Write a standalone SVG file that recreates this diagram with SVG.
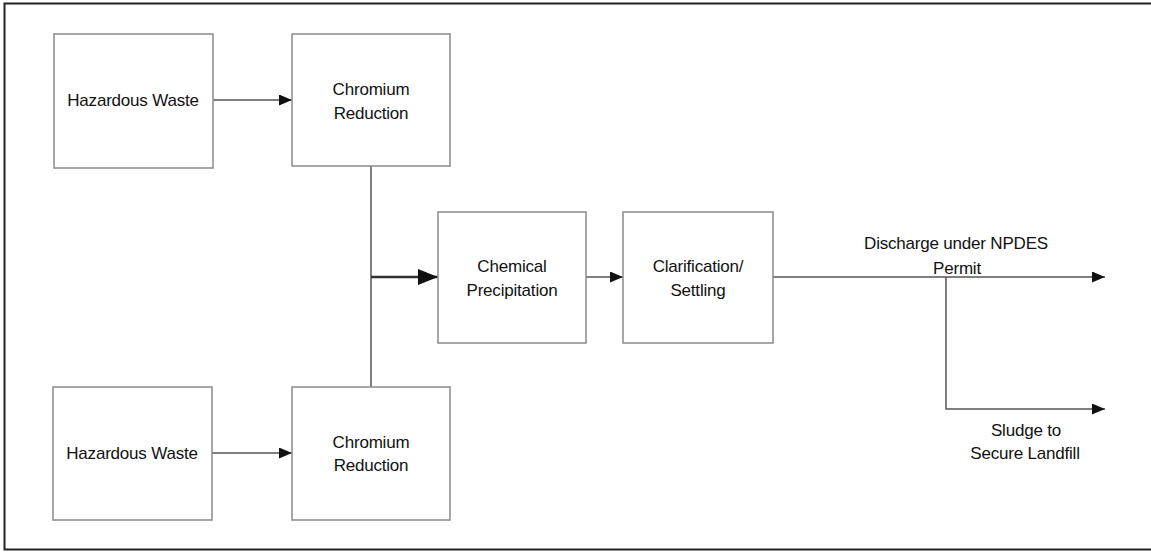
<svg xmlns="http://www.w3.org/2000/svg" width="1151" height="552" viewBox="0 0 1151 552">
<style>
.box{fill:#fff;stroke:#8a8a8a;stroke-width:1.5}
.t{font-family:"Liberation Sans",Arial,sans-serif;font-size:17px;fill:#111;text-anchor:middle;letter-spacing:-0.2px}
.c{fill:none;stroke:#555;stroke-width:1.5}
.ct{fill:none;stroke:#333;stroke-width:2.5}
</style>
<defs>
<marker id="a" viewBox="0 0 10 10" refX="10" refY="5" markerWidth="13" markerHeight="11" markerUnits="userSpaceOnUse" orient="auto" preserveAspectRatio="none"><path d="M0,0 L10,5 L0,10 Z" fill="#111"/></marker>
<marker id="b" viewBox="0 0 10 10" refX="10" refY="5" markerWidth="20" markerHeight="16" markerUnits="userSpaceOnUse" orient="auto" preserveAspectRatio="none"><path d="M0,0 L10,5 L0,10 Z" fill="#111"/></marker>
</defs>
<rect width="1151" height="552" fill="#fff"/>
<path d="M1151,3.5 H4.5 V549.5 H1151" fill="none" stroke="#222" stroke-width="2"/>
<g id="connectors">
<line class="c" x1="213" y1="100" x2="292" y2="100" marker-end="url(#a)"/>
<line class="c" x1="212" y1="453" x2="292" y2="453" marker-end="url(#a)"/>
<line class="c" x1="371" y1="166" x2="371" y2="387"/>
<line class="ct" x1="371" y1="277" x2="438" y2="277" marker-end="url(#b)"/>
<line class="c" x1="586" y1="277" x2="623" y2="277" marker-end="url(#a)"/>
<line class="c" x1="773" y1="277" x2="1105" y2="277" marker-end="url(#a)"/>
<polyline class="c" points="946,277 946,409 1105,409" marker-end="url(#a)"/>
</g>
<g id="hw1"><rect class="box" x="54" y="34" width="159" height="134"/><text class="t" x="133" y="106">Hazardous Waste</text></g>
<g id="cr1"><rect class="box" x="292" y="34" width="158" height="132"/><text class="t" x="371" y="95">Chromium</text><text class="t" x="371" y="119">Reduction</text></g>
<g id="hw2"><rect class="box" x="53" y="387" width="159" height="133"/><text class="t" x="132" y="459">Hazardous Waste</text></g>
<g id="cr2"><rect class="box" x="292" y="387" width="158" height="133"/><text class="t" x="371" y="448">Chromium</text><text class="t" x="371" y="471">Reduction</text></g>
<g id="cp"><rect class="box" x="438" y="212" width="148" height="131"/><text class="t" x="512" y="272">Chemical</text><text class="t" x="512" y="296">Precipitation</text></g>
<g id="cs"><rect class="box" x="623" y="212" width="150" height="131"/><text class="t" x="698" y="272">Clarification/</text><text class="t" x="698" y="296">Settling</text></g>
<g id="discharge"><text class="t" x="956" y="249">Discharge under NPDES</text><text class="t" x="957" y="274">Permit</text></g>
<g id="sludge"><text class="t" x="1026" y="436">Sludge to</text><text class="t" x="1025" y="459">Secure Landfill</text></g>
</svg>
